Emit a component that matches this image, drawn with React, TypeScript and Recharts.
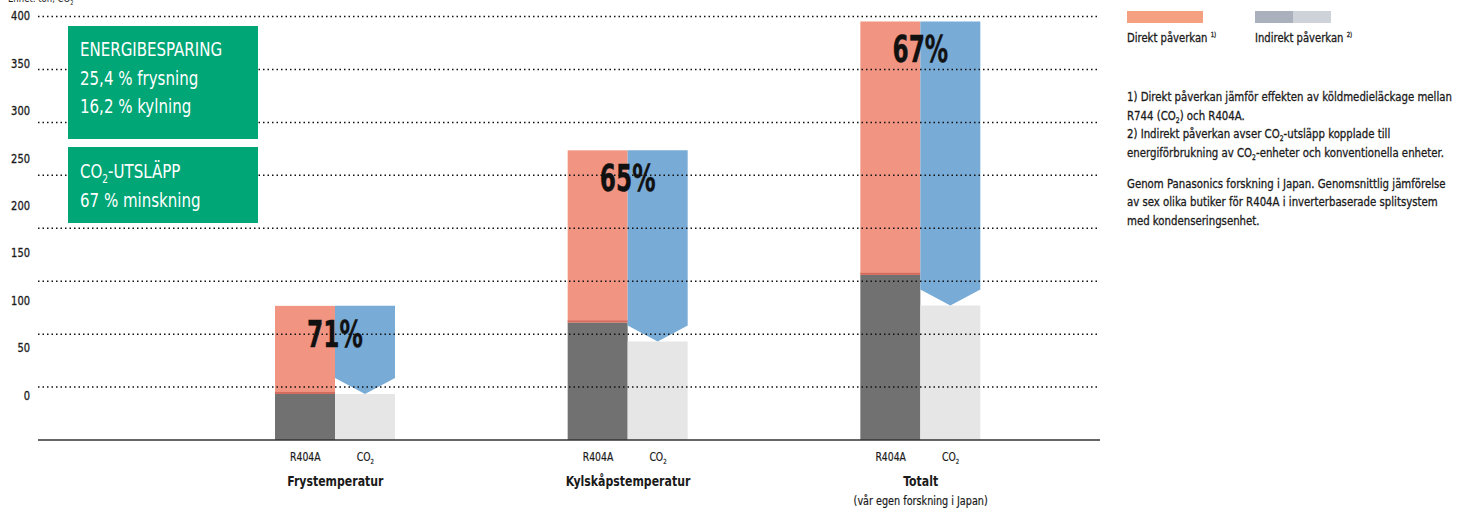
import React from "react";
import { BarChart, Bar, XAxis, YAxis, ReferenceLine, LabelList } from "recharts";

const groups = ["Frystemperatur", "Kylskåpstemperatur", "Totalt"];
const groupSubtitles = ["", "", "(vår egen forskning i Japan)"];
const r404aIndirect = [43.5, 111, 156];
const r404aDirect = [83.2, 162.6, 239.3];
const co2Indirect = [43.5, 93, 127];
const reductionLabels = ["71%", "65%", "67%"];
const yTicks = [0, 50, 100, 150, 200, 250, 300, 350, 400];
const barLabels = ["R404A", "CO"];

const FONT = "'DejaVu Sans Condensed', 'Liberation Sans Narrow', sans-serif";

const RED = "#F19582";
const BLUE = "#78ABD6";
const DARK = "#717171";
const LIGHT = "#E6E6E6";
const GREEN = "#00A676";
const INK = "#1a1a1a";

const data = groups.map((g, i) => ({
  group: g,
  subtitle: groupSubtitles[i],
  rIndirect: r404aIndirect[i],
  rDirect: r404aDirect[i],
  cIndirect: co2Indirect[i],
  arrow: r404aIndirect[i] + r404aDirect[i] - co2Indirect[i],
  pct: reductionLabels[i],
}));

// condensed text helper: horizontally squeezed text anchored at (x, y)
const CT = ({ x, y, s = 0.86, children, ...rest }: any) => (
  <text transform={`translate(${x} ${y}) scale(${s} 1)`} {...rest}>
    {children}
  </text>
);

const YTick = (props: any) => {
  const { x, y, payload } = props;
  const v = payload.value;
  const shift = -45 + 0.111 * v;
  return (
    <CT
      x={x}
      y={y + shift + 4.5}
      s={0.88}
      textAnchor="end"
      fontFamily={FONT}
      fontSize={12.5}
      fill={INK}
      stroke={INK}
      strokeWidth={0.3}
    >
      {v}
    </CT>
  );
};

const XTick = (props: any) => {
  const { x, y, payload, index } = props;
  const sub = groupSubtitles[index] || "";
  return (
    <g fontFamily={FONT} fill={INK}>
      <CT x={x - 30} y={y + 13} s={0.86} textAnchor="middle" fontSize={12} stroke={INK} strokeWidth={0.2}>
        {barLabels[0]}
      </CT>
      <CT x={x + 30} y={y + 13} s={0.86} textAnchor="middle" fontSize={12} stroke={INK} strokeWidth={0.2}>
        {barLabels[1]}
        <tspan fontSize={7} dy={3}>2</tspan>
      </CT>
      <CT x={x} y={y + 38} s={0.84} textAnchor="middle" fontSize={14.5} fontWeight="bold">
        {payload.value}
      </CT>
      {sub ? (
        <CT x={x} y={y + 57} s={0.86} textAnchor="middle" fontSize={12.5} stroke={INK} strokeWidth={0.2}>
          {sub}
        </CT>
      ) : null}
    </g>
  );
};

const RedShape = (props: any) => {
  const { x, y, width, height } = props;
  if (!height) return null;
  return (
    <g>
      <rect x={x} y={y} width={width} height={height} fill={RED} />
      <rect x={x} y={y + height - 2} width={width} height={2} fill="#D26C5E" />
    </g>
  );
};

const ArrowShape = (props: any) => {
  const { x, y, width, height } = props;
  if (!height) return null;
  const notch = 16;
  const pts = [
    [x, y],
    [x + width, y],
    [x + width, y + height - notch],
    [x + width / 2, y + height],
    [x, y + height - notch],
  ]
    .map((p) => p.join(","))
    .join(" ");
  return <polygon points={pts} fill={BLUE} />;
};

const PctLabel = (props: any) => {
  const { x, y, value } = props;
  return (
    <CT
      x={x}
      y={y + 41}
      s={0.7}
      textAnchor="middle"
      fontFamily={FONT}
      fontWeight="bold"
      fontSize={37}
      fill="#111"
      stroke="#111"
      strokeWidth={0.4}
    >
      {value}
    </CT>
  );
};

const noteLines = [
  { y: 101, parts: ["1) Direkt påverkan jämför effekten av köldmedieläckage mellan"] },
  { y: 119.5, parts: ["R744 (CO", "2", ") och R404A."] },
  { y: 138, parts: ["2) Indirekt påverkan avser CO", "2", "-utsläpp kopplade till"] },
  { y: 156.5, parts: ["energiförbrukning av CO", "2", "-enheter och konventionella enheter."] },
  { y: 187.5, parts: ["Genom Panasonics forskning i Japan. Genomsnittlig jämförelse"] },
  { y: 206, parts: ["av sex olika butiker för R404A i inverterbaserade splitsystem"] },
  { y: 224.5, parts: ["med kondenseringsenhet."] },
];

const renderParts = (parts: string[]) =>
  parts.map((p, i) =>
    i % 2 === 1 ? (
      <tspan key={i} fontSize="0.6em" dy={3}>
        {p}
      </tspan>
    ) : (
      <tspan key={i} dy={i === 0 ? 0 : -3}>
        {p}
      </tspan>
    )
  );

export default function App() {
  return (
    <div
      style={{
        position: "absolute",
        left: 0,
        top: 0,
        width: 1467,
        height: 509,
        background: "#fff",
        overflow: "hidden",
      }}
    >
      <div style={{ position: "absolute", left: 0, top: 0 }}>
        <BarChart
          width={1110}
          height={509}
          data={data}
          margin={{ top: 16.5, right: 10, left: 0, bottom: 0 }}
          barGap={0}
          barSize={60}
        >
          <XAxis
            dataKey="group"
            height={69}
            padding={{ left: 151, right: 33 }}
            axisLine={{ stroke: "#333", strokeWidth: 1.6 }}
            tickLine={false}
            tick={<XTick />}
            interval={0}
          />
          <YAxis
            type="number"
            domain={[0, 400]}
            ticks={yTicks}
            width={38}
            axisLine={false}
            tickLine={false}
            tick={<YTick />}
            interval={0}
          />
          <Bar dataKey="rIndirect" stackId="r" fill={DARK} isAnimationActive={false} />
          <Bar dataKey="rDirect" stackId="r" fill={RED} shape={<RedShape />} isAnimationActive={false} />
          <Bar dataKey="cIndirect" stackId="c" fill={LIGHT} isAnimationActive={false} />
          <Bar dataKey="arrow" stackId="c" fill={BLUE} shape={<ArrowShape />} isAnimationActive={false}>
            <LabelList dataKey="pct" content={<PctLabel />} />
          </Bar>
          {yTicks
            .filter((v) => v > 0)
            .map((v) => (
              <ReferenceLine key={v} y={v} stroke="#111" strokeWidth={1.5} strokeDasharray="1.5 3" />
            ))}
        </BarChart>
      </div>
      <svg
        width={1467}
        height={509}
        style={{ position: "absolute", left: 0, top: 0, pointerEvents: "none" }}
        fontFamily={FONT}
      >
        <CT x={8} y={2} s={0.86} fontSize={11} fill="#222">
          Enhet: ton, CO<tspan fontSize="0.6em" dy={3}>2</tspan>
        </CT>
        <rect x={68} y={26} width={190} height={113} fill={GREEN} />
        <g fill="#fff" fontSize={19}>
          <CT x={80} y={56} s={0.88}>ENERGIBESPARING</CT>
          <CT x={80} y={85} s={0.88}>25,4 % frysning</CT>
          <CT x={80} y={113} s={0.88}>16,2 % kylning</CT>
        </g>
        <rect x={68} y={147} width={190} height={76} fill={GREEN} />
        <g fill="#fff" fontSize={19}>
          <CT x={80} y={178} s={0.88}>
            CO<tspan fontSize="0.6em" dy={5}>2</tspan>
            <tspan dy={-5}>-UTSLÄPP</tspan>
          </CT>
          <CT x={80} y={207} s={0.88}>67 % minskning</CT>
        </g>
        <rect x={1127} y={11} width={76} height={12} fill="#F4A081" />
        <rect x={1255} y={11} width={38} height={12} fill="#AAB1BC" />
        <rect x={1293} y={11} width={38} height={12} fill="#CED2D9" />
        <g fill={INK} stroke={INK} strokeWidth={0.3} fontSize={13}>
          <CT x={1127} y={42} s={0.86}>
            Direkt påverkan <tspan fontSize={7} dy={-5}>1)</tspan>
          </CT>
          <CT x={1255} y={42} s={0.86}>
            Indirekt påverkan <tspan fontSize={7} dy={-5}>2)</tspan>
          </CT>
          {noteLines.map((l, i) => (
            <CT key={i} x={1127} y={l.y} s={0.87}>
              {renderParts(l.parts)}
            </CT>
          ))}
        </g>
      </svg>
    </div>
  );
}
